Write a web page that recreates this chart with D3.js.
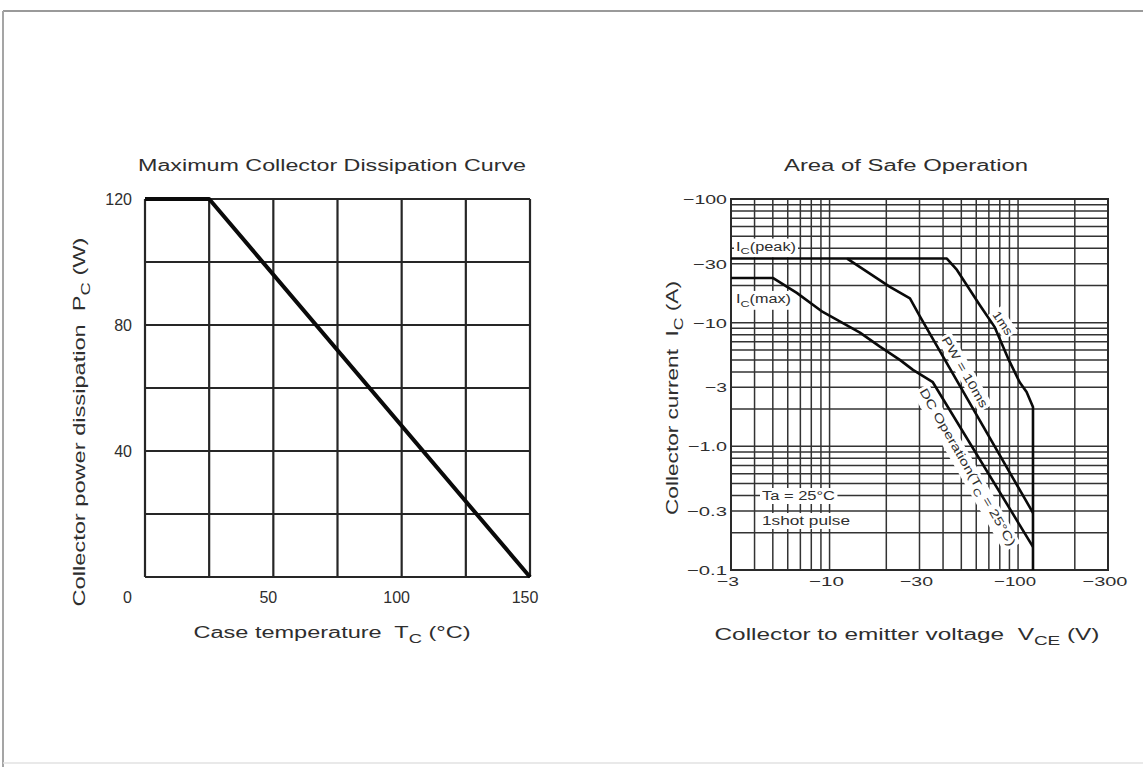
<!DOCTYPE html>
<html>
<head>
<meta charset="utf-8">
<script src="https://cdn.jsdelivr.net/npm/d3@7"></script>
<style>
  html, body { margin: 0; padding: 0; background: #fff; }
  svg { display: block; }
  text { font-family: "Liberation Sans", Arial, Helvetica, sans-serif; white-space: pre; }
</style>
</head>
<body>
<svg id="chart" width="1143" height="767"></svg>
<script>
// ---- Maximum collector dissipation (derating) curve ----
const caseTempC = [0, 25, 150];
const maxPowerW = [120, 120, 0];
const tempGrid = [0, 25, 50, 75, 100, 125, 150];
const powerGrid = [0, 20, 40, 60, 80, 100, 120];
const tempTicks = [50, 100, 150];
const powerTicks = [0, 40, 80, 120];

// ---- Area of safe operation (magnitudes: V_CE in V, I_C in A) ----
const v1ms = [3, 41.9, 47.4, 62.6, 75.2, 89.3, 102, 111, 120, 120];
const i1ms = [33, 33, 26.7, 13.9, 9.2, 5.0, 3.3, 2.75, 2.08, 0.1];
const v10ms = [12.4, 20.9, 26.7, 30.2, 120];
const i10ms = [33, 19.5, 15.7, 11.2, 0.29];
const vDc = [3, 5, 6.7, 9.2, 14.5, 18.5, 23.6, 27.7, 35.3, 120];
const iDc = [23, 23, 17.4, 12.2, 8.3, 6.4, 5.0, 4.15, 3.3, 0.154];
const vceTicks = [3, 10, 30, 100, 300];
const vceTickLabels = ["\u22123", "\u221210", "\u221230", "\u2212100", "\u2212300"];
const vceTickWidths = [22, 35, 33, 42, 45];
const icTicks = [100, 30, 10, 3, 1, 0.3, 0.1];
const icTickLabels = ["\u2212100", "\u221230", "\u221210", "\u22123", "\u22121.0", "\u22120.3", "\u22120.1"];
const icTickWidths = [44, 34, 34, 22, 39, 40, 40];

const svg = d3.select("#chart");
const INK = "#2e2e2e";

// text helper: parts are plain strings or {sub: "..."} subscripts
function addText(parent, o) {
  const g = parent.append("g")
    .attr("transform", `translate(${o.x},${o.y}) rotate(${o.rotate || 0})`);
  const bg = o.backing ? g.append("rect").attr("fill", "#fff") : null;
  const size = o.size || 15;
  const t = g.append("text")
    .attr("text-anchor", o.anchor || "middle")
    .attr("font-size", size)
    .attr("fill", o.fill || INK);
  if (o.center) t.attr("dy", "0.35em");
  const shift = size * 0.32;
  let lowered = false;
  (o.parts || [o.text]).forEach(p => {
    if (typeof p === "string") {
      const ts = t.append("tspan").text(p);
      if (lowered) { ts.attr("dy", -shift); lowered = false; }
    } else {
      t.append("tspan").attr("font-size", size * 0.78).attr("dy", shift).text(p.sub);
      lowered = true;
    }
  });
  if (o.width) t.attr("textLength", o.width).attr("lengthAdjust", "spacingAndGlyphs");
  if (bg) {
    const b = t.node().getBBox();
    const pad = o.pad == null ? 2 : o.pad;
    bg.attr("x", b.x - pad).attr("y", b.y - 1).attr("width", b.width + 2 * pad).attr("height", b.height + 2);
  }
  return g;
}

// ---- page frame ----
svg.append("line").attr("x1", 3).attr("x2", 1143).attr("y1", 11).attr("y2", 11)
  .attr("stroke", "#9a9a9a").attr("stroke-width", 2);
svg.append("line").attr("x1", 3).attr("x2", 3).attr("y1", 11).attr("y2", 767)
  .attr("stroke", "#a5a5a5").attr("stroke-width", 2);
svg.append("line").attr("x1", 3).attr("x2", 1143).attr("y1", 763).attr("y2", 763)
  .attr("stroke", "#e2e2e2").attr("stroke-width", 1.5);

// ================= Left chart =================
const xT = d3.scaleLinear().domain([0, 150]).range([145, 530]);
const yP = d3.scaleLinear().domain([0, 120]).range([577, 199]);
const left = svg.append("g");

left.append("g").selectAll("line").data(tempGrid).join("line")
  .attr("x1", d => xT(d)).attr("x2", d => xT(d))
  .attr("y1", yP(0)).attr("y2", yP(120))
  .attr("stroke", "#262626").attr("stroke-width", 2.2);
left.append("g").selectAll("line").data(powerGrid).join("line")
  .attr("x1", xT(0)).attr("x2", xT(150))
  .attr("y1", d => yP(d)).attr("y2", d => yP(d))
  .attr("stroke", "#262626").attr("stroke-width", 2.2);

const pcLine = d3.line().x(d => xT(d[0])).y(d => yP(d[1]));
left.append("path")
  .datum(caseTempC.map((t, i) => [t, maxPowerW[i]]))
  .attr("d", pcLine).attr("fill", "none")
  .attr("stroke", "#0a0a0a").attr("stroke-width", 4).attr("stroke-linejoin", "round");

powerTicks.forEach(v => {
  addText(left, { x: 132, y: v === 0 ? yP(0) + 26 : yP(v) + 6, text: String(v), anchor: "end", size: 16 });
});
tempTicks.forEach(v => {
  addText(left, { x: xT(v) - 5, y: yP(0) + 26, text: String(v), size: 16 });
});

addText(left, { x: 332, y: 171, text: "Maximum Collector Dissipation Curve", size: 16, width: 388 });
addText(left, { x: 332, y: 638, parts: ["Case temperature  T", { sub: "C" }, " (\u00b0C)"], size: 16, width: 277 });
addText(left, { x: 85, y: 422, rotate: -90, parts: ["Collector power dissipation  P", { sub: "C" }, " (W)"], size: 16, width: 369 });

// ================= Right chart =================
const xV = d3.scaleLog().domain([3, 300]).range([731, 1108]);
const yI = d3.scaleLog().domain([0.1, 100]).range([570, 199]);
const right = svg.append("g");

const vGrid = [];
[1, 10, 100].forEach(dec => d3.range(1, 10).forEach(m => {
  const v = m * dec; if (v >= 3 && v <= 300) vGrid.push(v);
}));
const iGrid = [];
[0.1, 1, 10].forEach(dec => d3.range(1, 10).forEach(m => iGrid.push(+(m * dec).toPrecision(3))));
iGrid.push(100);

right.append("g").selectAll("line").data(vGrid).join("line")
  .attr("x1", d => xV(d)).attr("x2", d => xV(d))
  .attr("y1", yI(0.1)).attr("y2", yI(100))
  .attr("stroke", "#333").attr("stroke-width", 1.5);
right.append("g").selectAll("line").data(iGrid).join("line")
  .attr("x1", xV(3)).attr("x2", xV(300))
  .attr("y1", d => yI(d)).attr("y2", d => yI(d))
  .attr("stroke", "#333").attr("stroke-width", 1.5);
right.append("rect")
  .attr("x", xV(3)).attr("y", yI(100))
  .attr("width", xV(300) - xV(3)).attr("height", yI(0.1) - yI(100))
  .attr("fill", "none").attr("stroke", "#2a2a2a").attr("stroke-width", 2);

// labels on white backing so grid lines break around them
addText(right, { x: xV(3) + 5, y: yI(33) - 8, parts: ["I", { sub: "C" }, "(peak)"], anchor: "start", size: 12, width: 60, backing: true });
addText(right, { x: xV(3) + 5, y: yI(23) + 25, parts: ["I", { sub: "C" }, "(max)"], anchor: "start", size: 12, width: 55, backing: true });
addText(right, { x: 762, y: 500, text: "Ta = 25\u00b0C", anchor: "start", size: 12, width: 73, backing: true });
addText(right, { x: 762, y: 525, text: "1shot pulse", anchor: "start", size: 12, width: 88, backing: true });
addText(right, { x: xV(83), y: yI(9.94), rotate: 56, text: "1ms", size: 12, width: 26, backing: true, center: true });
addText(right, { x: xV(52.3), y: yI(3.99), rotate: 60, text: "PW = 10ms", size: 12, width: 80, backing: true, center: true });
addText(right, { x: xV(54.1), y: yI(0.68), rotate: 60, parts: ["DC Operation(T", { sub: "C" }, " = 25\u00b0C)"], size: 12, width: 180, backing: true, center: true });

const soaLine = d3.line().x(d => xV(d[0])).y(d => yI(d[1]));
[[v1ms, i1ms], [v10ms, i10ms], [vDc, iDc]].forEach(([vs, is]) => {
  right.append("path")
    .datum(vs.map((v, k) => [v, is[k]]))
    .attr("d", soaLine).attr("fill", "none")
    .attr("stroke", "#0a0a0a").attr("stroke-width", 2.6).attr("stroke-linejoin", "round");
});

icTicks.forEach((v, k) => {
  addText(right, { x: 727, y: yI(v) + 5, text: icTickLabels[k], anchor: "end", size: 13, width: icTickWidths[k] });
});
vceTicks.forEach((v, k) => {
  addText(right, { x: xV(v) - 3, y: 586, text: vceTickLabels[k], size: 13, width: vceTickWidths[k] });
});

addText(right, { x: 906, y: 171, text: "Area of Safe Operation", size: 16, width: 244 });
addText(right, { x: 907, y: 640, parts: ["Collector to emitter voltage  V", { sub: "CE" }, " (V)"], size: 16, width: 385 });
addText(right, { x: 678, y: 398, rotate: -90, parts: ["Collector current  I", { sub: "C" }, " (A)"], size: 16, width: 234 });
</script>
</body>
</html>
